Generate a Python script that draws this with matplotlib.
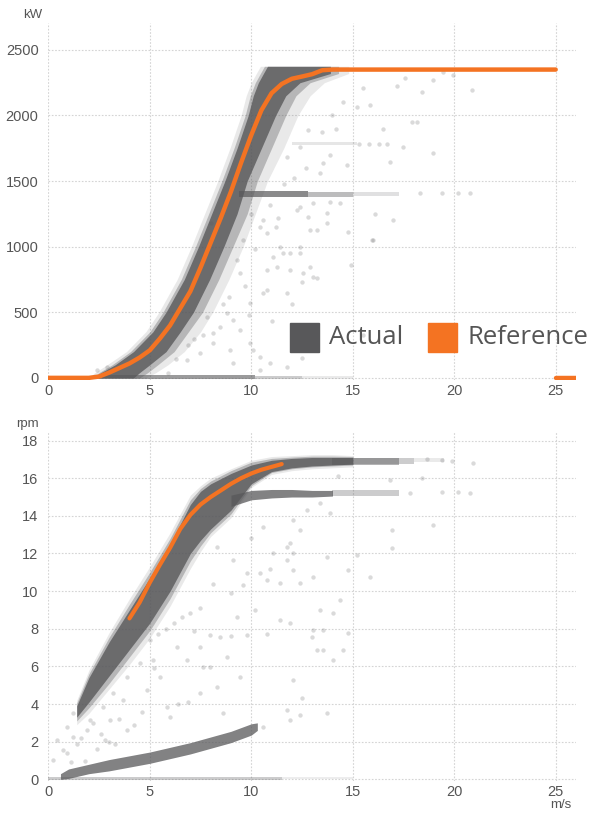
import matplotlib
matplotlib.use("Agg")
import matplotlib.pyplot as plt
from matplotlib.patches import Rectangle

# ---------------- data ----------------
# Reference power curve (m/s -> kW)
ref_p_ws = [0, 1, 2, 2.5, 3, 3.5, 4, 4.5, 5, 5.5, 6, 6.5, 7, 7.5, 8, 8.5, 9, 9.5,
            10, 10.5, 11, 11.5, 12, 12.5, 13, 13.5, 14, 15, 20, 25]
ref_p_kw = [0, 0, 0, 10, 40, 75, 110, 155, 210, 300, 400, 530, 660, 840, 1030, 1220,
            1420, 1640, 1850, 2040, 2170, 2240, 2280, 2297, 2315, 2345, 2350, 2350, 2350, 2350]
ref_cutout_ws = [25, 26]
ref_cutout_kw = [0, 0]

# Reference rotor speed (m/s -> rpm)
ref_r_ws = [4.0, 4.5, 5.0, 5.5, 6.0, 6.5, 7.0, 7.5, 8.0, 8.5, 9.0, 9.5, 10.0, 10.5, 11.0, 11.5]
ref_r_rpm = [8.55, 9.4, 10.45, 11.4, 12.3, 13.3, 14.05, 14.6, 15.0, 15.35, 15.7, 16.0,
             16.25, 16.45, 16.6, 16.75]

# Actual power: dense band (kW levels, left/right wind speed of core, mid and halo)
pw_lvl = [0, 40, 100, 200, 350, 500, 750, 1000, 1250, 1500, 1750, 2000, 2150, 2250, 2320, 2375]
pw_core_l = [2.3, 2.6, 3.3, 4.2, 5.15, 5.8, 6.7, 7.4, 8.05, 8.7, 9.3, 9.85, 10.1, 10.35, 10.6, 10.8]
pw_core_r = [4.2, 4.5, 5.0, 5.8, 6.5, 7.15, 7.95, 8.65, 9.3, 9.8, 10.5, 11.2, 11.7, 12.4, 13.9, 13.9]
pw_mid_l = [2.2, 2.5, 3.15, 4.05, 5.0, 5.65, 6.55, 7.25, 7.9, 8.55, 9.15, 9.7, 9.95, 10.2, 10.45, 10.65]
pw_mid_r = [4.5, 4.9, 5.4, 6.2, 6.9, 7.6, 8.4, 9.1, 9.8, 10.3, 11.0, 11.7, 12.2, 12.9, 14.3, 14.3]
pw_halo_l = [2.0, 2.3, 2.9, 3.85, 4.8, 5.45, 6.35, 7.05, 7.7, 8.35, 8.95, 9.5, 9.75, 10.0, 10.25, 10.45]
pw_halo_r = [4.8, 5.3, 5.9, 6.7, 7.5, 8.1, 8.9, 9.6, 10.2, 10.8, 11.6, 12.3, 12.9, 13.6, 14.8, 14.8]

# Actual power: horizontal streaks (x start, x end, kW centre, half height, density)
pw_streak_x0 = [9.4, 12.8, 15.0, 12.0, 0.3, 2.5, 10.2, 12.5]
pw_streak_x1 = [12.8, 15.0, 17.3, 15.2, 2.5, 10.2, 12.5, 15.0]
pw_streak_kw = [1400, 1400, 1400, 1785, 5, 5, 5, 5]
pw_streak_hh = [22, 18, 14, 12, 12, 14, 12, 10]
pw_streak_den = [0.7, 0.4, 0.18, 0.15, 0.25, 0.6, 0.3, 0.12]

# Actual power: scattered points
pw_pts_ws = [10.43, 10.76, 11.41, 12.24, 12.89, 13.71, 9.44, 10.76, 11.25, 11.9, 12.56, 13.22,
             12.4, 16.0, 8.79, 8.46, 9.44, 9.94, 10.43, 10.92, 8.95, 8.13, 7.8, 10.59, 9.94,
             15.5, 11.58, 14.37, 13.71, 10.76, 11.74, 11.08, 9.11, 10.1, 8.13, 7.47, 6.82,
             9.11, 10.43, 11.74, 2.87, 2.38, 15.52, 17.57, 17.16, 18.39, 18.97, 19.95, 20.86,
             19.46, 17.9, 18.15, 18.97, 16.83, 17.49, 15.3, 15.8, 16.3, 16.7, 13.55, 14.7,
             11.74, 12.4, 12.81, 13.96, 14.53, 15.19, 15.85, 13.47, 12.4, 13.05, 13.88, 12.81,
             13.22, 14.78, 15.93, 12.4, 11.9, 12.89, 13.05, 12.48, 12.48, 18.31, 19.38, 20.2,
             20.77, 14.2, 16.5, 12.0, 11.0, 9.7, 10.2, 7.2, 8.6, 9.3, 11.3, 12.1, 13.4, 6.3,
             5.9, 8.0, 14.9, 16.1, 17.0, 10.0, 10.6, 11.2, 9.6, 10.9, 11.6, 8.9, 9.9, 7.6,
             6.9, 12.7, 13.9]
pw_pts_kw = [1153, 1102, 1000, 1280, 1127, 1255, 797, 822, 848, 822, 797, 759, 950, 1051, 492,
             390, 365, 263, 161, 111, 212, 263, 466, 645, 568, 326, 950, 1331, 1178, 670, 645,
             924, 441, 212, 339, 187, 136, 111, 60, 85, 85, 60, 2208, 2285, 2226, 2182, 2272,
             2310, 2195, 2335, 1954, 1954, 1712, 1648, 1763, 1780, 1780, 1780, 1780, 1636,
             1623, 1686, 1763, 1890, 2005, 2106, 2068, 2081, 1877, 1305, 1331, 1343, 1229, 1127,
             1114, 1051, 1000, 950, 848, 771, 733, 149, 1412, 1412, 1412, 1412, 1900, 1900,
             560, 430, 700, 980, 300, 560, 900, 1220, 1520, 1560, 140, 40, 1180, 860, 1250, 1200,
             1250, 1200, 1150, 1050, 1320, 1480, 620, 480, 330, 250, 1600, 1700]

# Actual rotor speed: upper operating band (x, low, high) - core / mid / halo
rs_x = [1.4, 2.0, 3.0, 4.0, 5.0, 6.0, 7.0, 7.5, 8.0, 9.0, 10.0, 11.0, 12.0, 13.0, 14.0, 15.0]
rs_core_lo = [3.3, 4.1, 5.5, 6.9, 8.3, 10.0, 12.0, 12.7, 13.3, 14.3, 15.7, 16.35, 16.55, 16.65, 16.7, 16.75]
rs_core_hi = [3.9, 5.4, 7.3, 9.0, 10.7, 12.5, 14.6, 15.3, 15.7, 16.25, 16.7, 16.95, 17.05, 17.1, 17.1, 17.1]
rs_mid_lo = [3.1, 3.8, 5.1, 6.5, 7.9, 9.6, 11.6, 12.4, 13.1, 14.1, 15.6, 16.3, 16.5, 16.6, 16.65, 16.7]
rs_mid_hi = [4.05, 5.6, 7.55, 9.3, 11.0, 12.8, 14.85, 15.45, 15.85, 16.4, 16.85, 17.05, 17.12, 17.17, 17.17, 17.15]
rs_halo_lo = [2.9, 3.5, 4.8, 6.1, 7.5, 9.2, 11.2, 12.1, 12.9, 13.9, 15.5, 16.2, 16.4, 16.5, 16.55, 16.6]
rs_halo_hi = [4.2, 5.8, 7.8, 9.6, 11.3, 13.1, 15.1, 15.6, 16.0, 16.5, 16.95, 17.15, 17.2, 17.25, 17.25, 17.2]
# branch at ~15.2 rpm
rb_x = [9.0, 10.0, 11.0, 12.0, 13.0, 14.0]
rb_lo = [14.5, 14.85, 14.95, 15.0, 15.0, 15.05]
rb_hi = [15.1, 15.35, 15.4, 15.4, 15.35, 15.35]
# idle band
ri_x = [0.6, 1.0, 2.0, 3.0, 4.0, 5.0, 6.0, 7.0, 8.0, 9.0, 10.0, 10.3]
ri_lo = [0.0, 0.05, 0.3, 0.45, 0.65, 0.85, 1.1, 1.35, 1.65, 1.95, 2.35, 2.6]
ri_hi = [0.3, 0.55, 0.8, 1.05, 1.25, 1.45, 1.7, 1.95, 2.25, 2.55, 2.95, 3.0]
# horizontal streaks (x start, x end, rpm centre, half height, density)
rs_streak_x0 = [14.0, 15.0, 18.0, 14.0, 0.0, 11.5]
rs_streak_x1 = [17.3, 18.0, 19.5, 17.3, 11.5, 15.0]
rs_streak_rpm = [16.9, 16.92, 16.95, 15.2, 0.07, 0.07]
rs_streak_hh = [0.18, 0.15, 0.1, 0.15, 0.08, 0.06]
rs_streak_den = [0.45, 0.3, 0.12, 0.3, 0.3, 0.1]

# Actual rotor speed: scattered points
rs_pts_ws = [5.0, 5.4, 5.8, 6.2, 6.6, 7.0, 7.47, 9.77, 10.76, 7.97, 8.46, 9.0, 10.43, 11.41,
             12.07, 10.92, 0.9, 1.23, 2.05, 2.71, 3.2, 3.86, 4.52, 3.69, 3.04, 4.85, 5.5, 5.83,
             6.82, 7.64, 8.3, 9.44, 8.62, 6.32, 7.47, 5.17, 0.25, 0.41, 0.9, 0.74, 1.23, 8.3,
             9.11, 9.77, 10.76, 10.59, 11.08, 11.74, 12.07, 11.41, 12.07, 11.74, 10.59, 7.97,
             7.47, 11.74, 12.07, 12.4, 13.05, 13.71, 13.38, 14.04, 14.37, 11.9, 13.05, 13.54,
             12.98, 13.22, 13.54, 14.53, 14.04, 14.78, 15.85, 15.19, 14.78, 16.92, 16.92, 18.97,
             16.83, 18.39, 13.71, 12.4, 11.9, 12.48, 14.29, 13.38, 12.73, 13.88, 12.4, 11.9,
             17.82, 19.38, 20.2, 20.77, 18.64, 19.38, 19.87, 20.94, 1.6, 2.2, 2.6, 3.5, 4.2,
             1.8, 2.4, 3.0, 9.0, 9.6, 10.2, 6.0, 6.9, 8.8, 1.1, 1.4, 1.9, 2.8, 3.3, 3.9,
             4.6, 5.2, 6.4, 7.2, 8.1, 9.3, 10.0]
rs_pts_rpm = [7.4, 7.7, 8.0, 8.3, 8.6, 8.85, 9.09, 7.67, 7.7, 7.67, 7.58, 7.6, 10.95, 10.42,
              12.0, 11.2, 1.38, 2.27, 3.15, 3.86, 4.57, 5.45, 6.17, 4.22, 3.15, 4.75, 5.45, 3.86,
              6.34, 5.99, 4.92, 5.45, 3.5, 7.05, 7.05, 6.34, 1.03, 2.09, 2.8, 1.56, 3.5, 12.37,
              11.66, 10.95, 10.6, 13.43, 12.02, 12.37, 13.79, 8.47, 5.28, 3.68, 2.8, 5.99, 4.57,
              11.66, 11.13, 10.42, 10.77, 11.83, 9.0, 8.83, 9.53, 8.29, 7.94, 7.94, 7.58, 6.87,
              6.87, 6.87, 6.34, 7.76, 10.77, 11.92, 11.13, 12.28, 13.25, 13.52, 15.91, 16.0, 3.5,
              3.42, 3.15, 4.31, 16.09, 14.67, 14.32, 14.14, 13.25, 12.55, 15.2, 15.24, 15.24,
              15.22, 17.01, 16.94, 16.9, 16.83, 2.2, 3.0, 2.4, 3.2, 2.9, 1.0, 1.6, 2.0, 9.9,
              10.3, 9.0, 3.3, 4.1, 6.5, 0.9, 1.9, 2.6, 2.1, 1.9, 2.6, 3.6, 5.9, 4.0, 7.9, 10.4,
              8.6, 12.8]

x_ticks = [0, 5, 10, 15, 20, 25]
kw_ticks = [0, 500, 1000, 1500, 2000, 2500]
rpm_ticks = [0, 2, 4, 6, 8, 10, 12, 14, 16, 18]

# ---------------- style ----------------
GRAY = "#58585a"
ORANGE = "#f47322"
TXT = "#555555"
GRID = "#d4d4d4"
plt.rcParams["font.family"] = ["Liberation Sans", "DejaVu Sans"]

fig = plt.figure(figsize=(5.91, 8.13), dpi=100)
ax1 = fig.add_axes([0.0817, 0.5328, 0.8929, 0.4389])
ax2 = fig.add_axes([0.0817, 0.0391, 0.8929, 0.4299])


def style(ax, yticks, ylim):
    ax.set_xlim(0, 26)
    ax.set_ylim(*ylim)
    ax.set_xticks(x_ticks)
    ax.set_yticks(yticks)
    for s in ax.spines.values():
        s.set_visible(False)
    ax.grid(True, color=GRID, linestyle=(0, (1.5, 1.5)), linewidth=0.8)
    ax.set_axisbelow(True)
    ax.tick_params(length=0, labelsize=10.5, colors=TXT)
    ax.tick_params(axis="y", pad=7)
    ax.tick_params(axis="x", pad=3)


style(ax1, kw_ticks, (-15, 2705))
style(ax2, rpm_ticks, (-0.1, 18.47))

# ---- top: power ----
ax1.fill_betweenx(pw_lvl, pw_halo_l, pw_halo_r, color=GRAY, alpha=0.13, lw=0, zorder=2)
ax1.fill_betweenx(pw_lvl, pw_mid_l, pw_mid_r, color=GRAY, alpha=0.35, lw=0, zorder=2)
ax1.fill_betweenx(pw_lvl, pw_core_l, pw_core_r, color=GRAY, alpha=0.8, lw=0, zorder=2)
for x0, x1, yc, hh, d in zip(pw_streak_x0, pw_streak_x1, pw_streak_kw, pw_streak_hh, pw_streak_den):
    ax1.fill_between([x0, x1], [yc - hh] * 2, [yc + hh] * 2, color=GRAY, alpha=d, lw=0, zorder=2)
ax1.scatter(pw_pts_ws, pw_pts_kw, s=10, color=GRAY, alpha=0.22, lw=0, zorder=2)
ax1.plot(ref_p_ws, ref_p_kw, color=ORANGE, lw=3.2, solid_capstyle="round",
         solid_joinstyle="round", zorder=3)
ax1.plot(ref_cutout_ws, ref_cutout_kw, color=ORANGE, lw=3.2, solid_capstyle="round", zorder=3)

# ---- bottom: rotor speed ----
ax2.fill_between(rs_x, rs_halo_lo, rs_halo_hi, color=GRAY, alpha=0.13, lw=0, zorder=2)
ax2.fill_between(rs_x, rs_mid_lo, rs_mid_hi, color=GRAY, alpha=0.35, lw=0, zorder=2)
ax2.fill_between(rs_x, rs_core_lo, rs_core_hi, color=GRAY, alpha=0.8, lw=0, zorder=2)
ax2.fill_between(rb_x, rb_lo, rb_hi, color=GRAY, alpha=0.75, lw=0, zorder=2)
ax2.fill_between(ri_x, ri_lo, ri_hi, color=GRAY, alpha=0.75, lw=0, zorder=2)
for x0, x1, yc, hh, d in zip(rs_streak_x0, rs_streak_x1, rs_streak_rpm, rs_streak_hh, rs_streak_den):
    ax2.fill_between([x0, x1], [yc - hh] * 2, [yc + hh] * 2, color=GRAY, alpha=d, lw=0, zorder=2)
ax2.scatter(rs_pts_ws, rs_pts_rpm, s=10, color=GRAY, alpha=0.22, lw=0, zorder=2)
ax2.plot(ref_r_ws, ref_r_rpm, color=ORANGE, lw=3.0, solid_capstyle="round",
         solid_joinstyle="round", zorder=3)

# ---- axis unit labels ----
fig.text(33 / 591, 1 - 15 / 813, "kW", ha="center", va="center", fontsize=9.5, color=TXT)
fig.text(27 / 591, 1 - 424 / 813, "rpm", ha="center", va="center", fontsize=9.5, color=TXT)
fig.text(561 / 591, 1 - 805 / 813, "m/s", ha="center", va="center", fontsize=9.5, color=TXT)

# ---- legend ----
for x_px, col, label in [(290, GRAY, "Actual"), (428, ORANGE, "Reference")]:
    fig.patches.append(Rectangle((x_px / 591, 1 - 352 / 813), 29 / 591, 29 / 813,
                                 transform=fig.transFigure, color=col, zorder=5))
    fig.text((x_px + 39) / 591, 1 - 338 / 813, label, ha="left", va="center",
             fontsize=18.5, color=TXT, family=["Open Sans", "DejaVu Sans"], zorder=6)

fig.savefig("out.png", dpi=100)
